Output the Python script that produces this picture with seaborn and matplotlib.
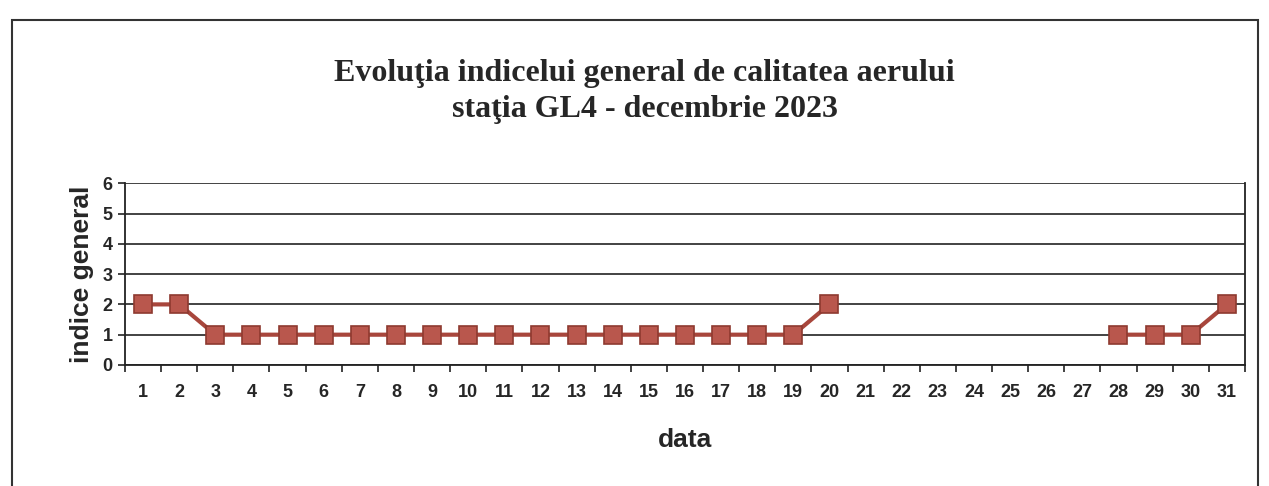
import numpy as np
import pandas as pd
import seaborn as sns
import matplotlib.pyplot as plt
from matplotlib.patches import Rectangle

# Date (zilele fara date lipsesc)
zile = list(range(1, 32))
indice = [2, 2, 1, 1, 1, 1, 1, 1, 1, 1, 1, 1, 1, 1, 1, 1, 1, 1, 1, 2,
          np.nan, np.nan, np.nan, np.nan, np.nan, np.nan, np.nan,
          1, 1, 1, 2]
segment = [1] * 20 + [0] * 7 + [2] * 4

df = pd.DataFrame({"data": zile, "indice": indice, "segment": segment}).dropna()

sns.set_theme(style="white")
plt.rcParams["font.family"] = ["Liberation Sans", "DejaVu Sans"]

fig = plt.figure(figsize=(12.69, 4.86), dpi=100)
ax = fig.add_axes([0.0985, 0.249, 0.8825, 0.374])

# chenarul exterior al diagramei
fig.patches.append(Rectangle((0.0095, -0.05), 0.982, 1.008, transform=fig.transFigure,
                             fill=False, edgecolor="#333333", linewidth=1.5))

sns.lineplot(data=df, x="data", y="indice", units="segment", estimator=None,
             color="#a8463c", linewidth=3, marker="s", markersize=13,
             markerfacecolor="#b9574d", markeredgecolor="#8e3a30", markeredgewidth=1.2,
             ax=ax, legend=False)

ax.set_xlim(0.5, 31.5)
ax.set_ylim(0, 6)
ax.set_yticks(range(0, 7))
ax.set_xticks(zile)
ax.set_xticks(np.arange(0.5, 32, 1), minor=True)
ax.tick_params(axis="x", which="major", length=0, pad=14)
ax.tick_params(axis="x", which="minor", length=5, width=1.2, direction="out", color="#222222")
ax.tick_params(axis="y", length=5, width=1.2, direction="out", color="#222222", pad=4)
ax.xaxis.set_ticks_position("bottom")
ax.yaxis.set_ticks_position("left")
for lbl in ax.get_xticklabels() + ax.get_yticklabels():
    lbl.set_fontweight("bold")
    lbl.set_fontsize(13)

ax.grid(axis="y", color="#222222", linewidth=1.2)
ax.set_axisbelow(True)
for s in ["left", "bottom", "right"]:
    ax.spines[s].set_color("#222222")
    ax.spines[s].set_linewidth(1.3)
ax.spines["top"].set_visible(False)

ax.set_xlabel("data", fontsize=19, fontweight="bold", labelpad=19)
ax.set_ylabel("indice general", fontsize=19, fontweight="bold", labelpad=6)

fig.text(0.508, 0.812, "Evoluţia indicelui general de calitatea aerului\nstaţia GL4 - decembrie 2023",
         ha="center", va="center", fontsize=23, fontweight="bold",
         family=["Liberation Serif", "DejaVu Serif"], linespacing=1.3)

fig.savefig("out.png", dpi=100, facecolor="white")
